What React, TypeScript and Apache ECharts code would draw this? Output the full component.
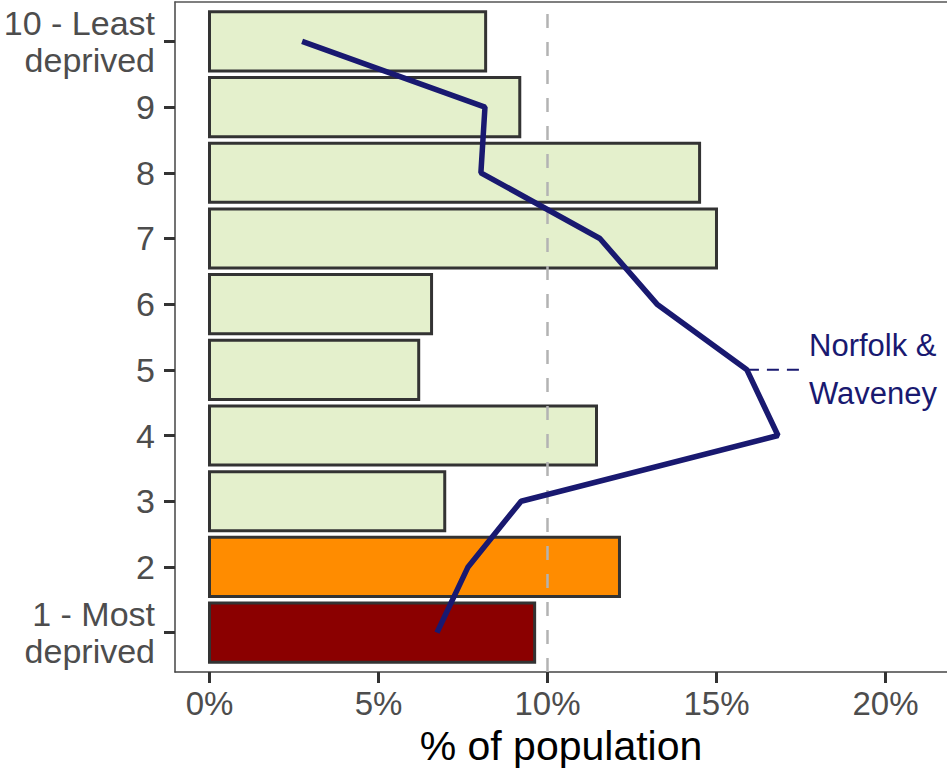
import React, { useEffect, useRef } from "react";
import * as echarts from "echarts";

const DECILES = [1, 2, 3, 4, 5, 6, 7, 8, 9, 10];
const DECILE_LABELS: Record<number, string> = {
  1: "1 - Most\ndeprived",
  2: "2",
  3: "3",
  4: "4",
  5: "5",
  6: "6",
  7: "7",
  8: "8",
  9: "9",
  10: "10 - Least\ndeprived",
};
// Local area % of population by deprivation decile (bars)
const BAR_VALUES = [9.62, 12.13, 6.96, 11.45, 6.19, 6.57, 15.0, 14.5, 9.18, 8.17];
// Norfolk & Waveney % of population by decile (line)
const LINE_VALUES = [6.73, 7.65, 9.22, 16.82, 15.9, 13.24, 11.55, 8.03, 8.15, 2.74];
const BAR_FILLS = [
  "#8B0000",
  "#FF8C00",
  "rgba(201,225,153,0.5)",
  "rgba(201,225,153,0.5)",
  "rgba(201,225,153,0.5)",
  "rgba(201,225,153,0.5)",
  "rgba(201,225,153,0.5)",
  "rgba(201,225,153,0.5)",
  "rgba(201,225,153,0.5)",
  "rgba(201,225,153,0.5)",
];
const X_TICKS = [0, 5, 10, 15, 20];
const REFERENCE_PCT = 10;
const LABEL_DECILE = 5;
const LABEL_END_X = 17.56;
const SERIES_NAME = "Norfolk &\nWaveney";

const FONT = "'Liberation Sans', Arial, sans-serif";
const X_MIN = -1.0207;
const X_MAX = 21.82;

export default function App() {
  const ref = useRef<HTMLDivElement>(null);
  useEffect(() => {
    if (!ref.current) return;
    const chart = echarts.init(ref.current, null, { renderer: "svg" });
    const labelIdx = DECILES.indexOf(LABEL_DECILE);
    chart.setOption({
      animation: false,
      textStyle: { fontFamily: FONT },
      grid: {
        left: 175,
        top: 2,
        width: 772,
        height: 670,
        show: false,
      },
      xAxis: [
        {
          type: "value",
          min: X_MIN,
          max: X_MAX,
          splitLine: { show: false },
          axisLine: { show: true, onZero: false, lineStyle: { color: "#444444", width: 1.5 } },
          axisTick: {
            show: true,
            inside: false,
            customValues: X_TICKS,
            length: 11,
            lineStyle: { color: "#333333", width: 3 },
          },
          axisLabel: {
            customValues: X_TICKS,
            formatter: (v: number) => `${v}%`,
            fontSize: 33,
            color: "#4D4D4D",
            margin: 15,
            fontFamily: FONT,
          },
          name: "% of population",
          nameLocation: "middle",
          nameGap: 53,
          nameTextStyle: { fontSize: 41, color: "#000000", fontFamily: FONT },
        },
        {
          type: "value",
          position: "top",
          min: X_MIN,
          max: X_MAX,
          splitLine: { show: false },
          axisLine: { show: true, onZero: false, lineStyle: { color: "#555555", width: 1.5 } },
          axisTick: { show: false },
          axisLabel: { show: false },
        },
      ],
      yAxis: {
        type: "value",
        min: 0.4,
        max: 10.6,
        splitLine: { show: false },
        axisLine: { show: true, onZero: false, lineStyle: { color: "#444444", width: 1.5 } },
        axisTick: {
          show: true,
          inside: false,
          customValues: DECILES,
          length: 11,
          lineStyle: { color: "#333333", width: 3 },
        },
        axisLabel: {
          customValues: DECILES,
          formatter: (v: number) => DECILE_LABELS[Math.round(v)] ?? "",
          fontSize: 34,
          lineHeight: 37,
          color: "#4D4D4D",
          margin: 20,
          fontFamily: FONT,
        },
      },
      series: [
        {
          type: "line",
          name: "reference",
          data: [
            [REFERENCE_PCT, 0.4],
            [REFERENCE_PCT, 10.6],
          ],
          symbol: "none",
          lineStyle: { color: "#B3B3B3", width: 2.5, type: [14, 14] },
          silent: true,
        },
        {
          type: "custom",
          name: "bars",
          data: BAR_VALUES.map((v, i) => [v, DECILES[i]]),
          encode: { x: 0, y: 1 },
          renderItem: (params: any, api: any) => {
            const v = api.value(0);
            const y = api.value(1);
            const p0 = api.coord([0, y + 0.45]);
            const p1 = api.coord([v, y - 0.45]);
            return {
              type: "rect",
              shape: {
                x: p0[0],
                y: p0[1],
                width: p1[0] - p0[0],
                height: p1[1] - p0[1],
              },
              style: {
                fill: BAR_FILLS[params.dataIndex],
                stroke: "#333333",
                lineWidth: 3,
              },
            };
          },
        },
        {
          type: "line",
          name: "Norfolk & Waveney",
          data: LINE_VALUES.map((v, i) => [v, DECILES[i]]),
          symbol: "none",
          lineStyle: { color: "#191970", width: 5.5 },
          z: 5,
        },
        {
          type: "line",
          name: "label",
          data: [
            [LINE_VALUES[labelIdx], LABEL_DECILE],
            [LABEL_END_X, LABEL_DECILE],
          ],
          symbol: "none",
          lineStyle: { color: "#191970", width: 2, type: [12, 8] },
          z: 4,
          endLabel: {
            show: true,
            formatter: () => SERIES_NAME,
            fontSize: 31,
            lineHeight: 48,
            color: "#191970",
            distance: 6,
            fontFamily: FONT,
            align: "left",
          },
        },
      ],
    });
    return () => chart.dispose();
  }, []);
  return (
    <div
      ref={ref}
      style={{ position: "absolute", left: 0, top: 0, width: 947, height: 776 }}
    />
  );
}
